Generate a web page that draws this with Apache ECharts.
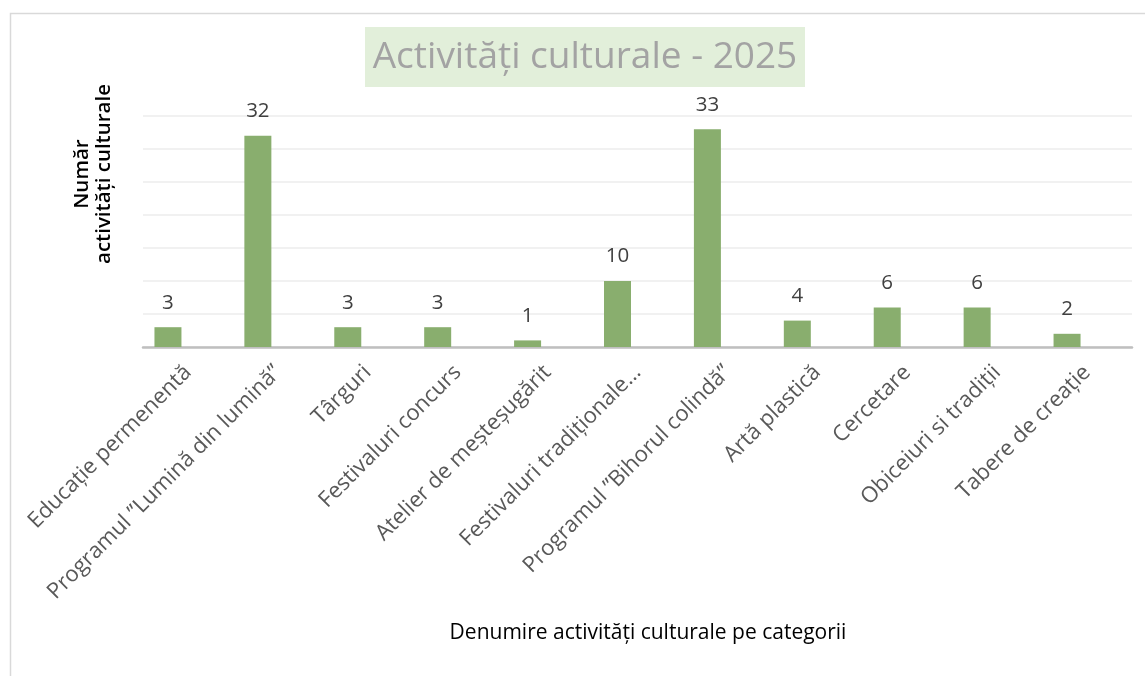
<!DOCTYPE html>
<html>
<head>
<meta charset="utf-8">
<script src="https://cdn.jsdelivr.net/npm/echarts@6/dist/echarts.min.js"></script>
<style>
html,body{margin:0;padding:0;background:#fff;}
#chart{width:1145px;height:676px;}
</style>
</head>
<body>
<div id="chart"></div>
<script>
// categorii si valori
var categorii=['Educație permenentă','Programul ”Lumină din lumină”','Târguri','Festivaluri concurs','Atelier de meșteșugărit','Festivaluri tradiționale…','Programul ”Bihorul colindă”','Artă plastică','Cercetare','Obiceiuri si tradiții','Tabere de creație'];
var valori=[3,32,3,3,1,10,33,4,6,6,2];
var yMax=35,yPas=5;

var font='"Open Sans"';
var myChart=echarts.init(document.getElementById('chart'));
var option={
	animation:false,
	grid:[
		{left:143,right:13,top:116,bottom:329},//grila pentru axe si etichete
		{left:123,right:33,top:116,bottom:329}//grila pentru bare (decalata ca in original)
	],
	xAxis:[
		{
			type:'category',gridIndex:0,data:categorii,
			axisLine:{lineStyle:{color:'#bfbfbf',width:2.5}},
			axisTick:{show:false},
			axisLabel:{rotate:45,interval:0,margin:22,color:'#595959',fontSize:22,fontFamily:font}
		},
		{
			type:'category',gridIndex:1,data:categorii,
			axisLine:{show:false},axisTick:{show:false},axisLabel:{show:false}
		}
	],
	yAxis:[
		{
			type:'value',gridIndex:0,min:0,max:yMax,interval:yPas,
			axisLine:{show:false},axisTick:{show:false},axisLabel:{show:false},
			splitLine:{lineStyle:{color:'#ececec',width:1.5}}
		},
		{
			type:'value',gridIndex:1,min:0,max:yMax,interval:yPas,
			axisLine:{show:false},axisTick:{show:false},axisLabel:{show:false},
			splitLine:{show:false}
		}
	],
	series:[{
		type:'bar',xAxisIndex:1,yAxisIndex:1,data:valori,
		barWidth:27,
		itemStyle:{color:'#89ae6e'},
		label:{show:true,position:'top',distance:14,color:'#404040',fontSize:20.5,fontFamily:font}
	}],
	graphic:[
		{type:'rect',left:8,top:11,shape:{width:1200,height:700},style:{fill:'none',stroke:'#d9d9d9',lineWidth:1.5},silent:true},
		{type:'rect',left:365,top:27,shape:{width:440,height:60},style:{fill:'#e2efda'}},
		{type:'text',x:585,y:57,style:{text:'Activități culturale - 2025',fill:'#a3a3a3',font:'37px '+font,textAlign:'center',textVerticalAlign:'middle'}},
		{type:'text',x:93,y:174,rotation:Math.PI/2,style:{text:'Număr\nactivități culturale',fill:'#000',font:'600 20.5px '+font,textAlign:'center',textVerticalAlign:'middle',lineHeight:22}},
		{type:'text',x:648,y:633,style:{text:'Denumire activități culturale pe categorii',fill:'#000',font:'21px '+font,textAlign:'center',textVerticalAlign:'middle'}}
	]
};
myChart.setOption(option);
</script>
</body>
</html>
